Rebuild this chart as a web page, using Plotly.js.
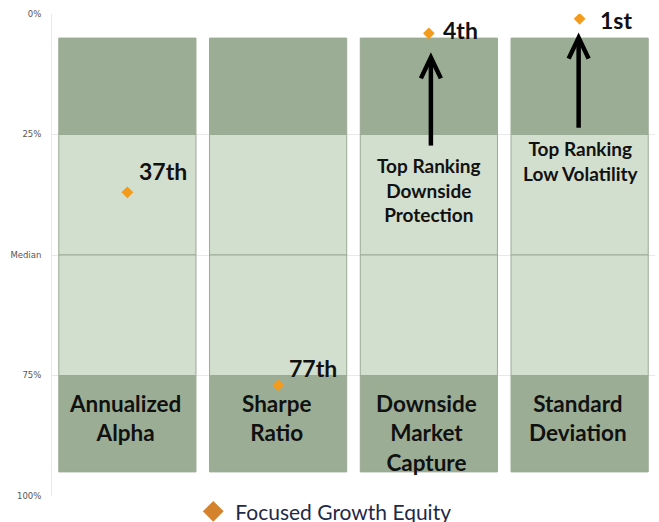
<!DOCTYPE html>
<html>
<head>
<meta charset="utf-8">
<script src="https://cdn.plot.ly/plotly-3.0.1.min.js"></script>
<style>html,body{margin:0;padding:0;background:#fff;}#chart{width:659px;height:522px;}</style>
</head>
<body>
<div id="chart"></div>
<script>
// ---- data ----
var categories = ["Annualized Alpha", "Sharpe Ratio", "Downside Market Capture", "Standard Deviation"];
var categoryLabels = ["Annualized<br>Alpha", "Sharpe<br>Ratio", "Downside<br>Market<br>Capture", "Standard<br>Deviation"];
var percentileRank = [37, 77, 4, 1];
var rankLabels = ["37th", "77th", "4th", "1st"];
var seriesName = "Focused Growth Equity";
// quartile bands (base / height, in percentile)
var bandBase = [5, 25, 50, 75];
var bandHeight = [20, 25, 25, 20];
var tickVals = [0, 25, 50, 75, 100];
var tickText = ["0%", "25%", "Median", "75%", "100%"];
var noteTexts = ["Top Ranking<br>Downside<br>Protection", "Top Ranking<br>Low Volatility"];
var noteCats = [2, 3];

var dark = "#9bae95", light = "#d3dfce";
var bandColors = [dark, light, light, dark];

var traces = [];
for (var b = 0; b < bandBase.length; b++) {
  traces.push({
    type: "bar",
    x: categories,
    y: categories.map(function () { return bandHeight[b]; }),
    base: bandBase[b],
    marker: {color: bandColors[b], line: {color: "#9aaa94", width: 1}},
    showlegend: false,
    hoverinfo: "skip"
  });
}
traces.push({
  type: "scatter", mode: "markers",
  x: categories, y: percentileRank,
  marker: {symbol: "diamond", size: 9, color: "#f39b1c"},
  showlegend: false, name: seriesName
});
traces.push({
  type: "scatter", mode: "markers",
  x: [null], y: [null], name: seriesName,
  marker: {symbol: "diamond", size: 17, color: "#d4822c"},
  showlegend: true
});

var boldFont = "Lato, 'Open Sans', sans-serif";
var annotations = [];
// category labels inside bars
categories.forEach(function (c, i) {
  annotations.push({
    x: c, y: 77.6, xref: "x", yref: "y", text: "<b>" + categoryLabels[i] + "</b>",
    showarrow: false, yanchor: "top", xanchor: "center", xshift: -2,
    font: {family: boldFont, size: 22.5, color: "#111"}
  });
});
// rank labels
var rankShift = [[10, 21], [9, 17], [12, 3], [18, -1]];
categories.forEach(function (c, i) {
  annotations.push({
    x: c, y: percentileRank[i], xref: "x", yref: "y", text: "<b>" + rankLabels[i] + "</b>",
    showarrow: false, xanchor: "left", yanchor: "middle",
    xshift: rankShift[i][0], yshift: rankShift[i][1],
    font: {family: boldFont, size: 23, color: "#111"}
  });
});
// notes
var noteY = [28.7, 25.1];
noteTexts.forEach(function (t, k) {
  annotations.push({
    x: categories[noteCats[k]], y: noteY[k], xref: "x", yref: "y", text: "<b>" + t + "</b>",
    showarrow: false, xanchor: "center", yanchor: "top", xshift: k === 0 ? 0 : 1,
    font: {family: boldFont, size: 19, color: "#111"}
  });
});

// arrows (shaft + open chevron head)
var arrowSpec = [{cat: 2, tip: 9.0, bottom: 27.3, dx: 2}, {cat: 3, tip: 4.9, bottom: 23.6, dx: -1}];
var shapes = [];
arrowSpec.forEach(function (a) {
  shapes.push({type: "line", xref: "x", yref: "y", xsizemode: "pixel", xanchor: a.cat,
    x0: a.dx, x1: a.dx, y0: a.bottom, y1: a.tip + 0.6, line: {color: "#000", width: 4.5}});
  shapes.push({type: "path", xref: "x", yref: "y", xsizemode: "pixel", ysizemode: "pixel",
    xanchor: a.cat, yanchor: a.tip,
    path: "M " + (a.dx - 10) + " -21 L " + a.dx + " 0 L " + (a.dx + 10) + " -21",
    line: {color: "#000", width: 4.5}});
});

var layout = {
  width: 659, height: 522,
  margin: {l: 52, r: 4, t: 14, b: 26, autoexpand: false},
  paper_bgcolor: "#fff", plot_bgcolor: "#fff",
  barmode: "overlay", bargap: 0.09,
  xaxis: {type: "category", showticklabels: false, showgrid: false, zeroline: false, showline: false,
    categoryorder: "array", categoryarray: categories},
  yaxis: {range: [100, 0], tickvals: tickVals, ticktext: tickText, showgrid: true, gridcolor: "#e8e8e8",
    zeroline: false, showline: true, linecolor: "#e8e8e8", ticks: "", ticklen: 0, ticklabelstandoff: 8,
    tickfont: {family: "'DejaVu Sans', sans-serif", size: 8.5, color: "#555"}},
  showlegend: true,
  legend: {orientation: "h", x: 0.231, xanchor: "left", y: 0.01, yanchor: "top", itemwidth: 34,
    font: {family: "Lato, sans-serif", size: 21, color: "#1f2a48"}, bgcolor: "rgba(0,0,0,0)"},
  annotations: annotations,
  shapes: shapes,
  hovermode: false
};

Plotly.newPlot("chart", traces, layout, {displayModeBar: false, staticPlot: true});
</script>
</body>
</html>
